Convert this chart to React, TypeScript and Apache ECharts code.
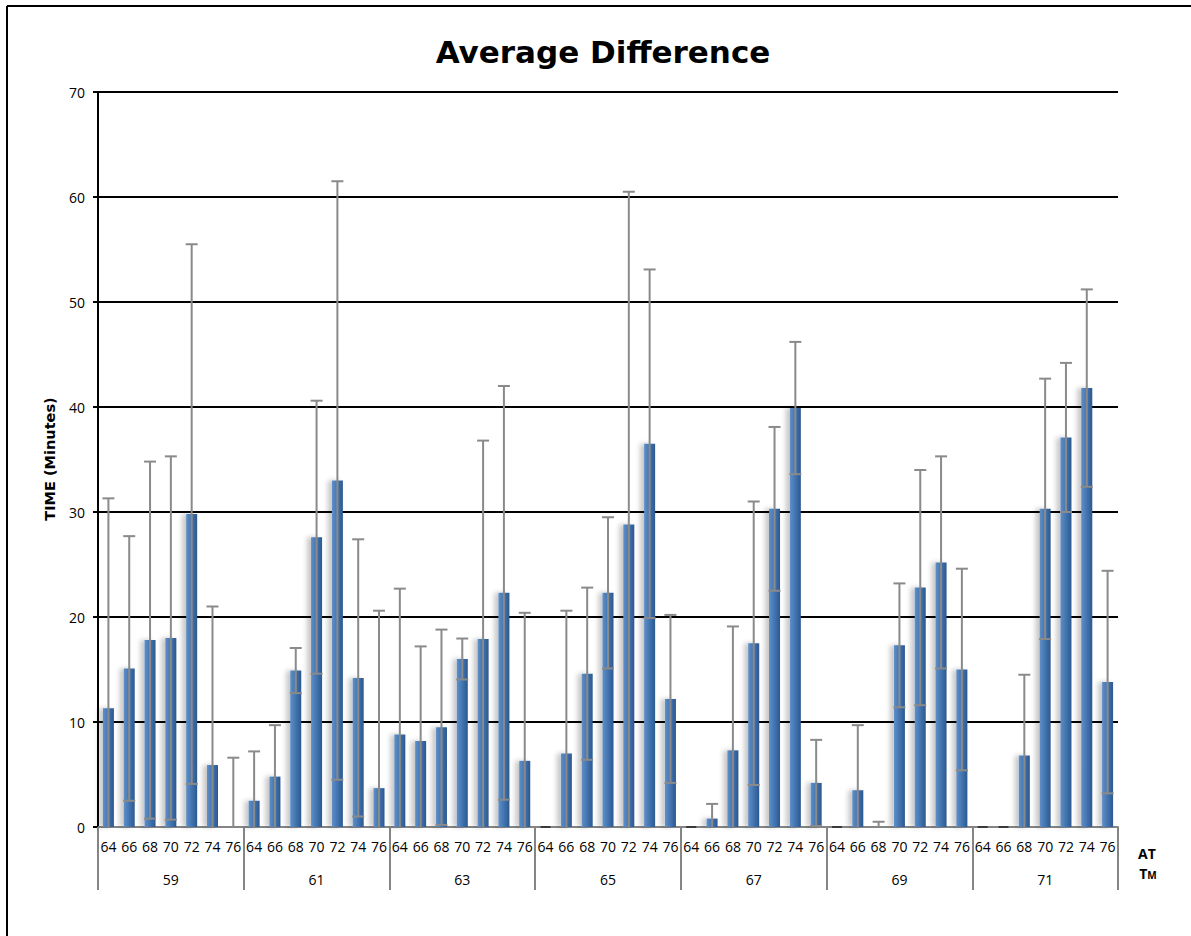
import React, { useEffect, useRef } from "react";
import * as echarts from "echarts";

const groups = ["59", "61", "63", "65", "67", "69", "71"];
const subLabels = ["64", "66", "68", "70", "72", "74", "76"];
const yTicks = [0, 10, 20, 30, 40, 50, 60, 70];

const mean59 = [11.3, 15.1, 17.8, 18.0, 29.8, 5.9, 0];
const err59 = [20.0, 12.6, 17.0, 17.3, 25.7, 15.1, 6.6];
const mean61 = [2.5, 4.8, 14.9, 27.6, 33.0, 14.2, 3.7];
const err61 = [4.7, 4.9, 2.15, 13.0, 28.5, 13.2, 16.9];
const mean63 = [8.8, 8.2, 9.5, 16.0, 17.9, 22.3, 6.3];
const err63 = [13.9, 9.0, 9.3, 1.95, 18.9, 19.7, 14.1];
const mean65 = [0, 7.0, 14.6, 22.3, 28.8, 36.5, 12.2];
const err65 = [0, 13.6, 8.2, 7.2, 31.7, 16.6, 8.0];
const mean67 = [0, 0.8, 7.3, 17.5, 30.3, 39.9, 4.2];
const err67 = [0, 1.4, 11.8, 13.5, 7.8, 6.3, 4.1];
const mean69 = [0, 3.5, 0, 17.3, 22.8, 25.2, 15.0];
const err69 = [0, 6.2, 0.5, 5.9, 11.2, 10.1, 9.6];
const mean71 = [0, 0, 6.8, 30.3, 37.1, 41.8, 13.8];
const err71 = [0, 0, 7.7, 12.4, 7.1, 9.4, 10.6];

const allMeans = [mean59, mean61, mean63, mean65, mean67, mean69, mean71];
const allErrs = [err59, err61, err63, err65, err67, err69, err71];

export default function App() {
  const ref = useRef<HTMLDivElement>(null);

  useEffect(() => {
    if (!ref.current) return;
    const chart = echarts.init(ref.current, undefined, { renderer: "svg" });

    const cats: string[] = [];
    const barData: number[] = [];
    const errData: number[][] = [];
    groups.forEach((g, gi) => {
      subLabels.forEach((s, si) => {
        const idx = cats.length;
        cats.push(s);
        barData.push(allMeans[gi][si]);
        errData.push([idx, allMeans[gi][si], allErrs[gi][si]]);
      });
    });

    const gray = "#858585";
    const labelFont = "'Open Sans', sans-serif";

    chart.setOption({
      animation: false,
      grid: { left: 98, right: 73, top: 92, bottom: 109, containLabel: false },
      xAxis: [
        {
          type: "category",
          data: cats,
          position: "bottom",
          axisLine: { show: true, lineStyle: { color: gray, width: 2 } },
          axisTick: { show: false },
          axisLabel: {
            interval: 0,
            margin: 12,
            fontSize: 14,
            color: "#000",
            fontFamily: labelFont,
          },
          splitLine: { show: false },
        },
        {
          type: "category",
          data: groups,
          position: "bottom",
          offset: 0,
          axisLine: { show: false },
          axisTick: {
            show: true,
            interval: 0,
            length: 63,
            lineStyle: { color: gray, width: 2 },
          },
          axisLabel: {
            interval: 0,
            margin: 45,
            fontSize: 14,
            color: "#000",
            fontFamily: labelFont,
          },
          splitLine: { show: false },
        },
      ],
      yAxis: {
        type: "value",
        min: 0,
        max: 70,
        interval: 10,
        axisLine: { show: true, lineStyle: { color: "#000", width: 2 } },
        axisTick: { show: true, length: 5, lineStyle: { color: "#000", width: 2 } },
        axisLabel: {
          margin: 13,
          fontSize: 14,
          color: "#000",
          fontFamily: labelFont,
          customValues: yTicks,
        },
        splitLine: { show: true, lineStyle: { color: "#000", width: 2 } },
      },
      series: [
        {
          type: "bar",
          xAxisIndex: 0,
          data: barData,
          barWidth: 11,
          itemStyle: {
            color: new echarts.graphic.LinearGradient(0, 0, 1, 0, [
              { offset: 0, color: "#5f8fc8" },
              { offset: 0.45, color: "#4677b2" },
              { offset: 1, color: "#2b5890" },
            ]),
            shadowColor: "rgba(0,0,0,0.22)",
            shadowBlur: 5,
            shadowOffsetX: -4,
          },
          z: 3,
        },
        {
          type: "custom",
          xAxisIndex: 0,
          data: errData,
          encode: { x: 0, y: 1 },
          z: 5,
          renderItem: (params: any, api: any) => {
            const idx = api.value(0);
            const v = api.value(1);
            const e = api.value(2);
            const base = api.coord([idx, 0]);
            const cx = base[0];
            const y0 = base[1];
            const children: any[] = [];
            if (v === 0 && e === 0) {
              children.push({
                type: "line",
                shape: { x1: cx - 5, y1: y0, x2: cx + 5, y2: y0 },
                style: { stroke: "#3a3a3a", lineWidth: 2 },
              });
              return { type: "group", children };
            }
            const top = api.coord([idx, v + e])[1];
            const low = v - e;
            const bot = low > 0 ? api.coord([idx, low])[1] : y0;
            const st = { stroke: "#8a8a8a", lineWidth: 2 };
            children.push({ type: "line", shape: { x1: cx, y1: top, x2: cx, y2: bot }, style: st });
            children.push({ type: "line", shape: { x1: cx - 6, y1: top, x2: cx + 6, y2: top }, style: st });
            if (low > 0) {
              children.push({ type: "line", shape: { x1: cx - 6, y1: bot, x2: cx + 6, y2: bot }, style: st });
            }
            return { type: "group", children };
          },
        },
      ],
      graphic: [
        {
          type: "line",
          shape: { x1: 7, y1: 6, x2: 1191, y2: 6 },
          style: { stroke: "#000", lineWidth: 2 },
          silent: true,
        },
        {
          type: "line",
          shape: { x1: 7, y1: 6, x2: 7, y2: 936 },
          style: { stroke: "#000", lineWidth: 2 },
          silent: true,
        },
        {
          type: "text",
          x: 603,
          y: 52,
          style: {
            text: "Average Difference",
            fontFamily: "'DejaVu Sans', sans-serif",
            fontWeight: "bold",
            fontSize: 31,
            fill: "#000",
            textAlign: "center",
            textVerticalAlign: "middle",
          },
        },
        {
          type: "text",
          x: 50,
          y: 459,
          rotation: Math.PI / 2,
          style: {
            text: "TIME (Minutes)",
            fontFamily: "'DejaVu Sans', sans-serif",
            fontWeight: "bold",
            fontSize: 14.5,
            fill: "#000",
            textAlign: "center",
            textVerticalAlign: "middle",
          },
        },
        {
          type: "text",
          x: 1147,
          y: 853,
          style: {
            text: "AT",
            fontFamily: "'Open Sans', sans-serif",
            fontWeight: "bold",
            fontSize: 14,
            fill: "#000",
            textAlign: "center",
            textVerticalAlign: "middle",
          },
        },
        {
          type: "text",
          x: 1148,
          y: 873,
          style: {
            text: "{a|T}{b|M}",
            textAlign: "center",
            textVerticalAlign: "middle",
            rich: {
              a: { fontFamily: "'Open Sans', sans-serif", fontWeight: "bold", fontSize: 14, fill: "#000", verticalAlign: "bottom" },
              b: { fontFamily: "'Open Sans', sans-serif", fontWeight: "bold", fontSize: 10, fill: "#000", verticalAlign: "bottom" },
            },
          },
        },
      ],
    });

    return () => chart.dispose();
  }, []);

  return (
    <div
      ref={ref}
      style={{ position: "fixed", left: 0, top: 0, width: 1191, height: 936, background: "#fff" }}
    />
  );
}
